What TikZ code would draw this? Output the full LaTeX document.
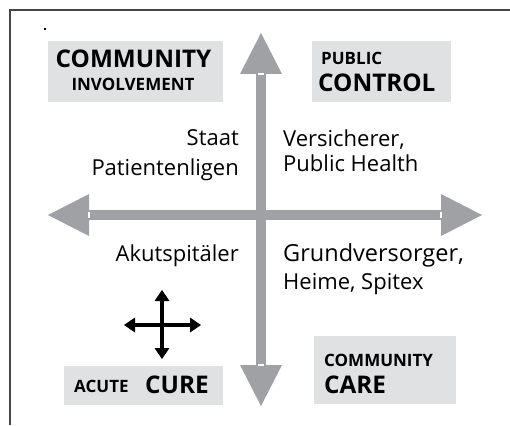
\documentclass[tikz,border=0pt]{standalone}
\usepackage{fontspec}
\setmainfont{Open Sans}
\usetikzlibrary{arrows.meta,calc}
\definecolor{axisgray}{RGB}{160,161,165}
\definecolor{panelgray}{RGB}{224,225,227}
\definecolor{framegray}{RGB}{70,70,70}

\begin{document}
\begin{tikzpicture}[
    x=1pt,
    y=-1pt,
    axis/.style={
        draw=axisgray,
        line width=10pt,
        -{Triangle[length=41pt,width=42pt,line width=0pt]}
    },
    notch/.style={
        draw=white,
        line width=2.5pt
    },
    panel/.style={
        fill=panelgray,
        inner sep=0pt,
        anchor=north west
    },
    big/.style={
        inner sep=0pt,
        font=\fontsize{24.3}{24.3}\selectfont\bfseries
    },
    small/.style={
        inner sep=0pt,
        font=\fontsize{17}{17}\selectfont\bfseries
    },
    label/.style={
        inner sep=0pt,
        font=\fontsize{22}{22}\selectfont
    },
    move/.style={
        draw=black,
        line width=3.5pt,
        {Triangle[length=11pt,width=15pt,line width=0pt]}-{Triangle[length=11pt,width=15pt,line width=0pt]}
    }
]
\useasboundingbox (0,0) rectangle (510,425);

% =====================
% Rahmen
% =====================
\draw[framegray, line width=1.3pt] (510,10) -- (10,10) -- (10,425);
\fill (44,28.5) rectangle (46,30);

% =====================
% Felder
% =====================
\node[panel, minimum width=175pt, minimum height=61pt] (inv) at (48,41) {};
\node[panel, minimum width=139pt, minimum height=61pt] (pub) at (312,41) {};
\node[panel, minimum width=159pt, minimum height=39pt] (acu) at (64,366) {};
\node[panel, minimum width=142pt, minimum height=68pt] (com) at (314,336) {};

% =====================
% Achsen
% =====================
\coordinate (O) at (261,215);
\coordinate (N) at (261,33);
\coordinate (S) at (261,406);
\coordinate (W) at (48,215);
\coordinate (E) at (482,215);

\draw[axis] (O) -- (N);
\draw[axis] (O) -- (S);
\draw[axis] (O) -- (W);
\draw[axis] (O) -- (E);

\draw[notch] ($(N)+(-3,41)$) -- ($(N)+(3,41)$);
\draw[notch] ($(S)+(-3,-41)$) -- ($(S)+(3,-41)$);
\draw[notch] ($(W)+(41,-3)$) -- ($(W)+(41,3)$);
\draw[notch] ($(E)+(-41,-3)$) -- ($(E)+(-41,3)$);

% =====================
% Kreuz
% =====================
\coordinate (Xw) at (124,325);
\coordinate (Xe) at (201,325);
\coordinate (Xn) at (162,290);
\coordinate (Xs) at (162,359);
\draw[move] (Xw) -- (Xe);
\draw[move] (Xn) -- (Xs);

% =====================
% Beschriftung Felder
% =====================
\node[big, anchor=base]        (invA) at (133.5,68) {COMMUNITY};
\node[small, anchor=base]      (invB) at (133,90)   {INVOLVEMENT};
\node[small, anchor=base west] (pubA) at (321,65)   {PUBLIC};
\node[big, anchor=base west]   (pubB) at (318,92)   {CONTROL};
\node[small, anchor=base west] (acuA) at (74,392)   {ACUTE};
\node[big, anchor=base west]   (acuB) at (145,393)  {CURE};
\node[small, anchor=base west] (comA) at (324,366)  {COMMUNITY};
\node[big, anchor=base west]   (comB) at (324,393)  {CARE};

% =====================
% Akteure
% =====================
\node[label, anchor=base east] (staat) at (239,145) {Staat};
\node[label, anchor=base east] (liga)  at (239,175) {Patientenligen};
\node[label, anchor=base west] (vers)  at (283,146) {Versicherer,};
\node[label, anchor=base west] (ph)    at (283,171) {Public Health};
\node[label, anchor=base east] (akut)  at (239,261) {Akutspitäler};
\node[label, anchor=base west, font=\fontsize{23.5}{23.5}\selectfont] (grund) at (283,261) {Grundversorger,};
\node[label, anchor=base west] (heim)  at (283,289) {Heime, Spitex};

\end{tikzpicture}
\end{document}
